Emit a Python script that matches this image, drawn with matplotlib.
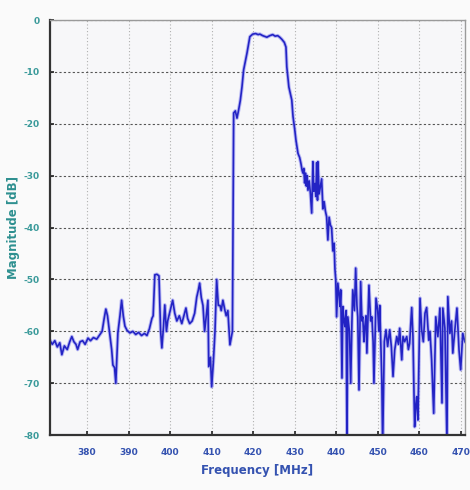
import matplotlib
matplotlib.use("Agg")
import matplotlib.pyplot as plt
import numpy as np

# frequency [MHz] / magnitude [dB]
freq = [371.0, 371.6, 372.2, 372.8, 373.4, 373.9, 374.5, 375.2, 375.8, 376.3,
        376.8, 377.3, 377.7, 378.3, 378.9, 379.5, 380.2, 380.8, 381.5, 382.3,
        383.0, 383.6, 384.1, 384.5, 384.9, 385.5, 385.9, 386.2, 386.6, 386.9,
        387.2, 387.4, 387.9, 388.3, 388.7, 389.1, 389.6, 390.3, 391.0, 391.7,
        392.4, 393.1, 393.8, 394.4, 395.0, 395.6, 395.9, 396.3, 396.8, 397.3,
        397.7, 398.0, 398.4, 398.7, 399.1, 399.4, 400.0, 400.6, 401.1, 401.6,
        402.2, 402.8, 403.3, 403.8, 404.2, 404.7, 405.3, 405.9, 406.4, 406.8,
        407.1, 407.5, 407.9, 408.3, 408.7, 409.1, 409.3, 409.7, 410.0, 410.4,
        410.8, 411.0, 411.2, 411.6, 412.0, 412.3, 412.7, 413.2, 413.5, 413.9,
        414.4, 415.0, 415.3, 415.7, 416.1, 416.5, 416.9, 417.3, 417.7, 418.1,
        418.5, 418.9, 419.2, 419.9, 420.6, 421.2, 421.6, 422.3, 423.3, 424.0,
        424.7, 425.3, 425.9, 426.4, 426.9, 427.5, 427.9, 428.1, 428.6, 428.9,
        429.3, 429.6, 430.0, 430.3, 430.8, 431.2, 431.5, 431.8, 432.0, 432.2,
        432.4, 432.6, 432.8, 433.0, 433.2, 433.5, 433.8, 434.1, 434.4, 434.6,
        434.9, 435.1, 435.3, 435.5, 435.6, 435.9, 436.2, 436.5, 436.8, 437.1,
        437.4, 437.7, 438.0, 438.3, 438.6, 438.9, 439.2, 439.5, 439.7, 439.9,
        440.1, 440.4, 440.7, 440.9, 441.1, 441.4, 441.6, 441.9, 442.1, 442.4,
        442.6, 442.8, 443.2, 443.5, 443.8, 444.0, 444.4, 444.7, 445.0, 445.2,
        445.5, 445.9, 446.2, 446.4, 446.7, 446.9, 447.2, 447.4, 447.9, 448.3,
        448.6, 448.9, 449.1, 449.6, 450.0, 450.3, 450.5, 451.0, 451.2, 451.6,
        452.0, 452.4, 452.9, 453.3, 453.7, 454.1, 454.6, 455.0, 455.3, 455.8,
        456.1, 456.5, 457.0, 457.4, 457.7, 458.2, 458.5, 458.9, 459.2, 459.4,
        459.7, 460.2, 460.6, 461.0, 461.4, 461.8, 462.3, 462.6, 463.0, 463.5,
        464.0, 464.5, 465.0, 465.5, 465.7, 466.2, 466.7, 466.9, 467.4, 467.8,
        468.1, 468.6, 469.1, 469.6, 470.0, 470.5, 471.0]
mag = [-61.7, -62.5, -61.8, -63.0, -62.2, -64.5, -62.8, -63.5, -62.0, -61.0,
       -62.0, -62.5, -63.5, -62.0, -61.8, -62.5, -61.3, -61.8, -61.2, -61.5,
       -60.7, -60.0, -57.5, -55.7, -57.0, -61.0, -63.5, -66.5, -67.0, -70.0,
       -64.0, -60.3, -57.0, -54.0, -57.0, -59.0, -59.8, -60.3, -60.0, -60.6,
       -60.2, -60.8, -60.4, -60.8, -59.5, -57.5, -57.0, -49.1, -49.0, -49.3,
       -60.0, -63.2, -59.0, -54.9, -60.0, -58.0, -56.0, -54.0, -56.5, -58.0,
       -57.0, -58.5, -57.0, -55.5, -57.5, -58.5, -58.0, -56.5, -53.4, -52.0,
       -50.7, -53.5, -55.0, -60.0, -57.0, -54.0, -66.8, -65.0, -70.7, -66.0,
       -60.0, -55.0, -50.0, -55.0, -55.0, -56.0, -54.0, -56.0, -57.0, -56.0,
       -62.6, -60.0, -17.9, -17.5, -18.9, -17.3, -15.5, -12.9, -9.6, -8.0,
       -6.4, -4.5, -3.2, -2.7, -2.6, -2.8, -2.7, -3.0, -3.3, -3.0,
       -2.8, -3.1, -3.0, -3.3, -3.7, -4.3, -5.2, -9.0, -12.9, -14.0,
       -15.4, -18.6, -21.0, -23.1, -25.7, -26.5, -27.6, -29.0, -29.5, -28.6,
       -31.4, -29.5, -32.0, -30.0, -32.8, -31.0, -33.5, -37.2, -27.3, -33.0,
       -31.5, -34.0, -27.5, -34.7, -27.3, -33.5, -32.0, -30.6, -36.4, -35.0,
       -36.8, -37.9, -42.4, -38.0, -39.5, -40.0, -44.5, -43.0, -48.0, -50.1,
       -57.2, -50.7, -53.0, -55.2, -52.0, -69.0, -55.2, -58.0, -59.1, -56.0,
       -82.0, -57.2, -60.0, -70.0, -58.0, -52.0, -56.0, -47.8, -55.0, -57.2,
       -71.3, -50.4, -58.0, -57.2, -62.0, -59.1, -57.0, -64.2, -51.1, -58.0,
       -57.2, -62.0, -70.0, -53.6, -55.9, -60.0, -55.0, -69.4, -82.0, -62.0,
       -59.7, -62.9, -59.7, -63.0, -68.7, -63.6, -61.0, -62.5, -59.4, -65.5,
       -61.0, -62.0, -61.0, -63.5, -62.3, -55.4, -61.0, -78.4, -74.0, -72.6,
       -77.1, -53.6, -59.7, -62.0, -56.5, -55.4, -61.7, -60.0, -65.5, -75.8,
       -57.2, -61.0, -55.5, -73.8, -55.5, -59.4, -82.0, -53.3, -60.4, -58.0,
       -64.2, -59.7, -55.5, -63.6, -67.4, -60.4, -62.0]

xticks = [380, 390, 400, 410, 420, 430, 440, 450, 460, 470]
yticks = [0, -10, -20, -30, -40, -50, -60, -70, -80]

plt.rcParams['axes.unicode_minus'] = False
plt.rcParams['font.family'] = 'DejaVu Sans'

fig = plt.figure(figsize=(4.7, 4.9), dpi=100, facecolor='#fafafa')
ax = fig.add_axes([0.106, 0.112, 0.883, 0.847])
ax.set_facecolor('#f7f7f9')

# soft halo under the trace, then the trace itself
ax.plot(freq, mag, color='#8c8cf0', lw=2.6, alpha=0.6, solid_joinstyle='round')
ax.plot(freq, mag, color='#2323c4', lw=1.2, solid_joinstyle='round')

ax.set_xlim(371, 471)
ax.set_ylim(-80, 0)
ax.set_xticks(xticks)
ax.set_yticks(yticks)

ax.yaxis.grid(True, color='#555555', linestyle=(0, (2, 2)), lw=0.8)
ax.xaxis.grid(True, color='#b0b0b0', linestyle=(0, (1, 2)), lw=0.8)
ax.set_axisbelow(True)

ax.tick_params(direction='in', length=3, width=1.2, color='#222222')
ax.tick_params(axis='x', labelsize=6.5, labelcolor='#3452b0', pad=9)
ax.tick_params(axis='y', labelsize=6.5, labelcolor='#3a9a9a', pad=7)
for lab in ax.get_xticklabels() + ax.get_yticklabels():
    lab.set_fontweight('bold')

for side in ['left', 'bottom']:
    ax.spines[side].set_color('#333333')
    ax.spines[side].set_linewidth(1.6)
for side in ['top', 'right']:
    ax.spines[side].set_color('#9a9a9a')
    ax.spines[side].set_linewidth(1.0)

ax.set_xlabel('Frequency [MHz]', color='#3452b0', fontsize=8.5, fontweight='bold', labelpad=5)
ax.set_ylabel('Magnitude [dB]', color='#2e9090', fontsize=8.5, fontweight='bold', labelpad=3)

fig.savefig('out.png', dpi=100, facecolor=fig.get_facecolor())
